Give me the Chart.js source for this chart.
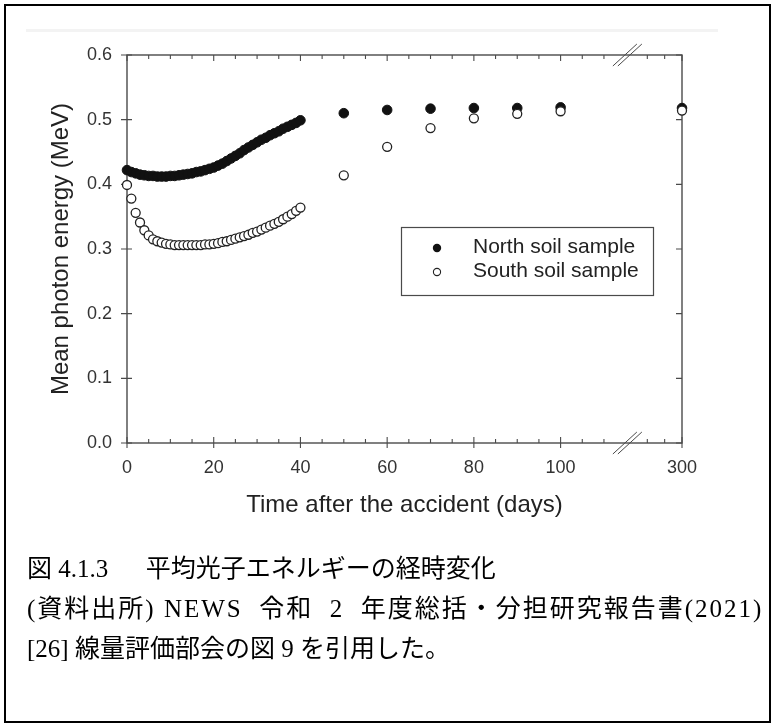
<!DOCTYPE html>
<html>
<head>
<meta charset="utf-8">
<script src="https://cdn.jsdelivr.net/npm/chart.js@4.4.0/dist/chart.umd.min.js"></script>
<style>
  html, body { margin: 0; padding: 0; background: #fff; }
  body { width: 774px; height: 727px; position: relative; overflow: hidden; }
  #frame { position: absolute; left: 4px; top: 4px; width: 767px; height: 719px; border: 2px solid #000; box-sizing: border-box; }
  #band { position: absolute; left: 26px; top: 29px; width: 692px; height: 3px; background: #f3f3f3; }
  #chartBox { position: absolute; left: 0; top: 0; width: 774px; height: 727px; }
  .cap { position: absolute; left: 27px; font-family: "Liberation Serif", "Noto Sans CJK JP", serif; font-size: 25px; line-height: 30px; color: #000; white-space: nowrap; }
</style>
</head>
<body>
<div id="frame"></div>
<div id="band"></div>
<div id="chartBox"><canvas id="energyChart" width="774" height="727"></canvas></div>
<div class="cap" style="top:554px">図 4.1.3　&nbsp;&nbsp;平均光子エネルギーの経時変化</div>
<div class="cap" style="top:594px; letter-spacing:2px">(資料出所) NEWS&nbsp;&nbsp;令和&nbsp;&nbsp;2&nbsp;&nbsp;年度総括・分担研究報告書(2021)</div>
<div class="cap" style="top:634px">[26] 線量評価部会の図 9 を引用した。</div>
<script>
// Sampling days (days after the accident)
const days = [0, 1, 2, 3, 4, 5, 6, 7, 8, 9, 10, 11, 12, 13, 14, 15, 16, 17, 18, 19, 20,
  21, 22, 23, 24, 25, 26, 27, 28, 29, 30, 31, 32, 33, 34, 35, 36, 37, 38, 39, 40,
  50, 60, 70, 80, 90, 100, 300];

// Mean photon energy (MeV)
const northSoil = [0.422, 0.419, 0.417, 0.415, 0.414, 0.413, 0.413, 0.412, 0.412, 0.412, 0.413,
  0.413, 0.414, 0.415, 0.416, 0.417, 0.419, 0.420, 0.422, 0.424, 0.426,
  0.429, 0.432, 0.436, 0.440, 0.444, 0.448, 0.453, 0.457, 0.461, 0.465,
  0.469, 0.472, 0.476, 0.479, 0.482, 0.486, 0.489, 0.492, 0.495, 0.499,
  0.510, 0.515, 0.517, 0.518, 0.518, 0.519, 0.518];
const southSoil = [0.399, 0.378, 0.356, 0.341, 0.329, 0.321, 0.315, 0.312, 0.310, 0.308, 0.307,
  0.306, 0.306, 0.306, 0.306, 0.306, 0.306, 0.306, 0.307, 0.307, 0.308,
  0.309, 0.311, 0.312, 0.314, 0.316, 0.318, 0.320, 0.322, 0.325, 0.327,
  0.330, 0.333, 0.336, 0.339, 0.342, 0.346, 0.350, 0.354, 0.359, 0.364,
  0.414, 0.458, 0.487, 0.502, 0.509, 0.513, 0.514];

const seriesNames = ['North soil sample', 'South soil sample'];

// Axis ticks
const yTicks = [0, 0.1, 0.2, 0.3, 0.4, 0.5, 0.6];
const xTickDays = [0, 20, 40, 60, 80, 100, 300];
const xTickLabels = ['0', '20', '40', '60', '80', '100', '300'];
const xMinorDays = [5, 10, 15, 25, 30, 35, 45, 50, 55, 65, 70, 75, 85, 90, 95, 105, 110, 260, 280];

const axisColor = '#4a4a4a';
const textFont = '"Liberation Sans", Arial, sans-serif';

// broken x axis: days after the break are compressed
function mapDay(d) {
    return d > 115 ? 128 - (300 - d) * 0.2 : d;
}

function toPoints(values) {
    return days.map((d, i) => ({ x: mapDay(d), y: values[i] }));
}

// axes box, tick marks, break marks and the inset legend
const framePlugin = {
    id: 'frame',
    beforeDatasetsDraw(chart) {
        const { ctx, chartArea: a, scales: { x, y } } = chart;
        ctx.save();
        ctx.strokeStyle = axisColor;
        ctx.lineWidth = 1.4;
        ctx.strokeRect(a.left, a.top, a.right - a.left, a.bottom - a.top);

        ctx.lineWidth = 1.1;
        ctx.beginPath();
        xTickDays.forEach(d => {
            const px = x.getPixelForValue(mapDay(d));
            ctx.moveTo(px, a.bottom + 5);
            ctx.lineTo(px, a.bottom - 6);
            ctx.moveTo(px, a.top);
            ctx.lineTo(px, a.top + 6);
        });
        xMinorDays.forEach(d => {
            const px = x.getPixelForValue(mapDay(d));
            ctx.moveTo(px, a.bottom);
            ctx.lineTo(px, a.bottom - 4);
            ctx.moveTo(px, a.top);
            ctx.lineTo(px, a.top + 4);
        });
        yTicks.forEach(v => {
            const py = y.getPixelForValue(v);
            ctx.moveTo(a.left - 6, py);
            ctx.lineTo(a.left + 5, py);
            ctx.moveTo(a.right, py);
            ctx.lineTo(a.right - 6, py);
        });
        ctx.stroke();

        // break marks "//"
        const bx = x.getPixelForValue(115.4);
        ctx.lineWidth = 1;
        ctx.beginPath();
        [a.top, a.bottom].forEach(yy => {
            [-2.5, 2.5].forEach(off => {
                ctx.moveTo(bx + off - 12, yy + 11);
                ctx.lineTo(bx + off + 12, yy - 11);
            });
        });
        ctx.stroke();
        ctx.restore();
    },
    afterDatasetsDraw(chart) {
        const { ctx } = chart;
        ctx.save();
        ctx.strokeStyle = axisColor;
        ctx.lineWidth = 1.2;
        ctx.strokeRect(401.5, 227.5, 252, 68);

        const rows = [247, 271];
        ctx.fillStyle = '#111';
        ctx.beginPath();
        ctx.arc(437, rows[0] + 1, 4.2, 0, Math.PI * 2);
        ctx.fill();
        ctx.strokeStyle = '#222';
        ctx.lineWidth = 1.1;
        ctx.beginPath();
        ctx.arc(437, rows[1] + 1, 3.6, 0, Math.PI * 2);
        ctx.stroke();

        ctx.fillStyle = '#222';
        ctx.font = '21px ' + textFont;
        ctx.textBaseline = 'middle';
        ctx.textAlign = 'left';
        ctx.fillText(seriesNames[0], 473, rows[0]);
        ctx.fillText(seriesNames[1], 473, rows[1]);
        ctx.restore();
    }
};

const ctx = document.getElementById('energyChart').getContext('2d');

const chart = new Chart(ctx, {
    type: 'scatter',
    data: {
        datasets: [
            {
                label: seriesNames[0],
                data: toPoints(northSoil),
                backgroundColor: '#111',
                borderColor: '#111',
                borderWidth: 1,
                pointRadius: 4.8,
                clip: false,
                order: 2
            },
            {
                label: seriesNames[1],
                data: toPoints(southSoil),
                backgroundColor: '#fff',
                borderColor: '#222',
                borderWidth: 1.3,
                pointRadius: 4.5,
                clip: false,
                order: 1
            }
        ]
    },
    options: {
        responsive: false,
        animation: false,
        layout: {
            padding: { left: 0, top: 55, right: 92, bottom: 206 }
        },
        plugins: {
            legend: { display: false },
            tooltip: { enabled: false }
        },
        scales: {
            x: {
                type: 'linear',
                min: 0,
                max: 128,
                afterBuildTicks: scale => {
                    scale.ticks = xTickDays.map(d => ({ value: mapDay(d) }));
                },
                afterFit: scale => { scale.height = 78; },
                ticks: {
                    padding: 14,
                    color: '#333',
                    font: { size: 18, family: textFont },
                    callback: (value, index) => xTickLabels[index]
                },
                grid: { display: false, drawTicks: false },
                border: { display: false },
                title: {
                    display: true,
                    text: 'Time after the accident (days)',
                    color: '#222',
                    font: { size: 24, family: textFont },
                    padding: { top: 0, bottom: 1 }
                }
            },
            y: {
                min: 0,
                max: 0.6,
                afterBuildTicks: scale => {
                    scale.ticks = yTicks.map(v => ({ value: v }));
                },
                afterFit: scale => { scale.width = 127; },
                ticks: {
                    padding: 15,
                    color: '#333',
                    font: { size: 18, family: textFont },
                    callback: value => value.toFixed(1)
                },
                grid: { display: false, drawTicks: false },
                border: { display: false },
                title: {
                    display: true,
                    text: 'Mean photon energy (MeV)',
                    color: '#222',
                    font: { size: 24, family: textFont },
                    padding: { top: 47, bottom: 0 }
                }
            }
        }
    },
    plugins: [framePlugin]
});
</script>
</body>
</html>
